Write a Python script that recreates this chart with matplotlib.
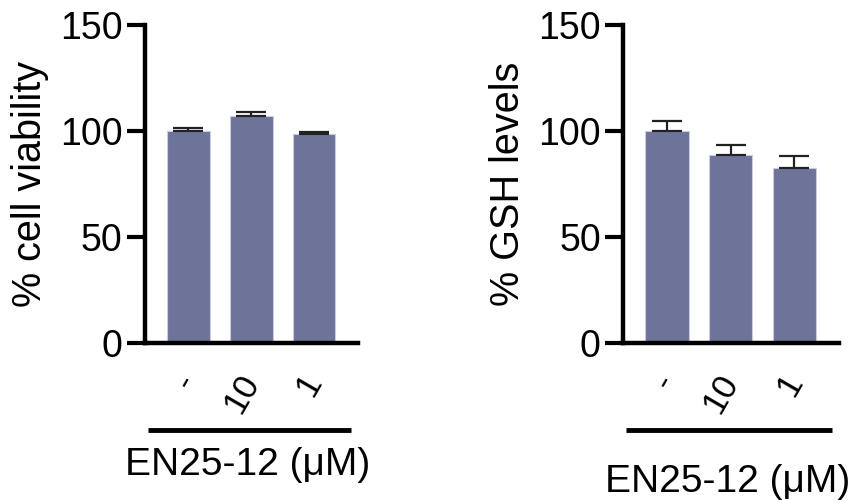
import matplotlib
matplotlib.use("Agg")
import matplotlib.pyplot as plt
import numpy as np

plt.rcParams['font.family'] = ['Liberation Sans', 'DejaVu Sans']

# EN25-12 doses (uM), "-" = vehicle
doses = ["-", "10", "1"]
viability = [100.0, 107.0, 98.5]
viability_err = [1.5, 2.0, 1.2]
gsh = [100.0, 88.5, 82.5]
gsh_err = [4.5, 4.8, 5.8]

bar_color = "#6e7499"
edge_color = "#c9cbe0"


def draw_panel(ax, vals, errs, ylabel):
    x = np.arange(len(vals))
    ax.bar(x, vals, width=0.68, color=bar_color, edgecolor=edge_color,
           linewidth=0.8, zorder=2)
    # upper-only error bars like prism
    ax.errorbar(x, vals, yerr=[np.zeros(len(errs)), errs], fmt='none',
                ecolor='#222222', elinewidth=1.6, capsize=11, capthick=1.6,
                zorder=3)
    ax.set_xlim(-0.69, 2.70)
    ax.set_ylim(0, 150)
    ax.set_yticks([0, 50, 100, 150])
    ax.set_xticks(x)
    ax.set_xticklabels(doses, rotation=60, rotation_mode='anchor',
                       ha='right', va='center', fontsize=25)
    ax.tick_params(axis='x', length=0, pad=24)
    ax.tick_params(axis='y', length=13, width=3, labelsize=27, pad=3)
    for s in ['top', 'right']:
        ax.spines[s].set_visible(False)
    for s in ['left', 'bottom']:
        ax.spines[s].set_linewidth(3.2)
    ax.set_ylabel(ylabel, fontsize=28.5, labelpad=8)
    # dose bracket under the tick labels
    ax.plot([0.014, 0.967], [-0.274, -0.274], color='black', lw=3.5,
            transform=ax.transAxes, clip_on=False, solid_capstyle='butt')


fig = plt.figure(figsize=(8.59, 5.0), dpi=100)
ax1 = fig.add_axes([0.1688, 0.314, 0.248, 0.636])
ax2 = fig.add_axes([0.7253, 0.314, 0.2515, 0.636])

draw_panel(ax1, viability, viability_err, "% cell viability")
draw_panel(ax2, gsh, gsh_err, "% GSH levels")

fig.text(248 / 859, 1 - 465 / 500, "EN25-12 (μM)", fontsize=28,
         ha='center', va='center')
fig.text(728 / 859, 1 - 482 / 500, "EN25-12 (μM)", fontsize=28,
         ha='center', va='center')

fig.savefig("out.png", dpi=100)
